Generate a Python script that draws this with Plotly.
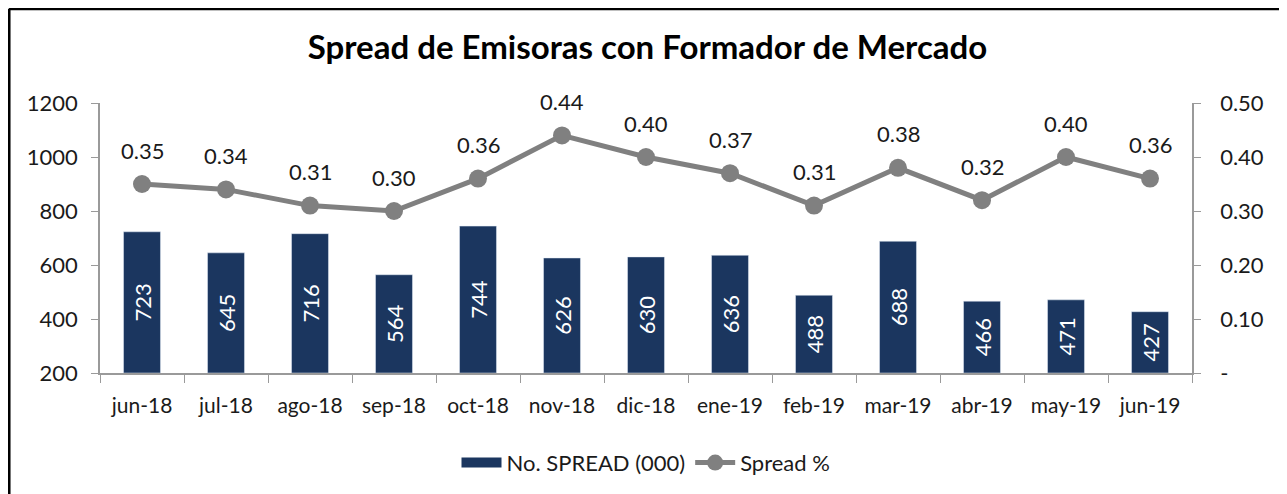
import plotly.graph_objects as go

categories = ["jun-18", "jul-18", "ago-18", "sep-18", "oct-18", "nov-18", "dic-18",
              "ene-19", "feb-19", "mar-19", "abr-19", "may-19", "jun-19"]
spread_count = [723, 645, 716, 564, 744, 626, 630, 636, 488, 688, 466, 471, 427]
spread_pct = [0.35, 0.34, 0.31, 0.30, 0.36, 0.44, 0.40, 0.37, 0.31, 0.38, 0.32, 0.40, 0.36]
left_ticks = [200, 400, 600, 800, 1000, 1200]
right_ticks = [0, 0.10, 0.20, 0.30, 0.40, 0.50]
right_ticktext = ["-", "0.10", "0.20", "0.30", "0.40", "0.50"]

FONT = "Lato"
BAR_COLOR = "#1B365F"
LINE_COLOR = "#808080"
TEXT_COLOR = "#1a1a1a"
AXIS_COLOR = "#9a9a9a"
y_base = left_ticks[0]

fig = go.Figure()
fig.add_trace(go.Bar(
    x=categories,
    y=[v - y_base for v in spread_count],
    base=y_base,
    name="No. SPREAD (000)",
    marker=dict(color=BAR_COLOR),
    text=[str(v) for v in spread_count],
    textposition="inside",
    insidetextanchor="middle",
    textangle=-90,
    textfont=dict(family=FONT, size=22, color="white"),
    hoverinfo="x+text",
    showlegend=False,
    yaxis="y",
))
# legend entry for the bars (wide rectangle like the original legend key)
fig.add_trace(go.Scatter(
    x=[None], y=[None], mode="lines", name="No. SPREAD (000)",
    line=dict(color=BAR_COLOR, width=14), yaxis="y",
))
fig.add_trace(go.Scatter(
    x=categories,
    y=spread_pct,
    name="Spread %",
    mode="lines+markers",
    line=dict(color=LINE_COLOR, width=5),
    marker=dict(color=LINE_COLOR, size=18),
    yaxis="y2",
))

for c, v in zip(categories, spread_pct):
    fig.add_annotation(x=c, y=v, xref="x", yref="y2", text=f"{v:.2f}",
                       showarrow=False, yanchor="middle", yshift=34,
                       font=dict(family=FONT, size=22, color=TEXT_COLOR))

# chart frame
fig.add_shape(type="line", xref="paper", yref="paper", x0=-0.0833, x1=-0.0833, y0=1.349, y1=-0.6,
              line=dict(color="black", width=3))
fig.add_shape(type="line", xref="paper", yref="paper", x0=-0.0833, x1=1.0833, y0=1.349, y1=1.349,
              line=dict(color="black", width=3))
fig.add_shape(type="line", xref="paper", yref="paper", x0=1.0815, x1=1.0815, y0=1.349, y1=-0.6,
              line=dict(color="#8c8c8c", width=1.5))

fig.update_layout(
    width=1279, height=486,
    margin=dict(l=92, r=95, t=95, b=120),
    paper_bgcolor="white", plot_bgcolor="white",
    font=dict(family=FONT, size=22, color=TEXT_COLOR),
    title=dict(text="<b>Spread de Emisoras con Formador de Mercado</b>",
               x=0.5, xanchor="center", y=0.918, yanchor="middle",
               font=dict(family=FONT, size=33, color="black")),
    bargap=0.56,
    showlegend=True,
    legend=dict(orientation="h", x=0.5, xanchor="center", y=-0.25, yanchor="top",
                font=dict(family=FONT, size=22, color=TEXT_COLOR), itemwidth=40,
                traceorder="normal"),
    xaxis=dict(type="category", range=[-0.5, len(categories) - 0.5],
               showline=True, linecolor=AXIS_COLOR, linewidth=1.5,
               ticks="outside", tickson="boundaries", ticklen=8, tickcolor=AXIS_COLOR,
               ticklabelstandoff=13, tickangle=0,
               showgrid=False, tickfont=dict(family=FONT, size=21, color=TEXT_COLOR)),
    yaxis=dict(range=[200, 1200], tickvals=left_ticks, showline=True, linecolor=AXIS_COLOR,
               linewidth=1.5, ticks="outside", ticklen=7, tickcolor=AXIS_COLOR,
               ticklabelstandoff=9,
               showgrid=False, zeroline=False, tickfont=dict(family=FONT, size=22, color=TEXT_COLOR)),
    yaxis2=dict(range=[0, 0.5], overlaying="y", side="right", tickvals=right_ticks,
                ticktext=right_ticktext, showline=True, linecolor=AXIS_COLOR, linewidth=1.5,
                ticks="outside", ticklen=7, tickcolor=AXIS_COLOR, showgrid=False, zeroline=False,
                ticklabelstandoff=15,
                tickfont=dict(family=FONT, size=22, color=TEXT_COLOR)),
)

fig.write_html("out.html")
